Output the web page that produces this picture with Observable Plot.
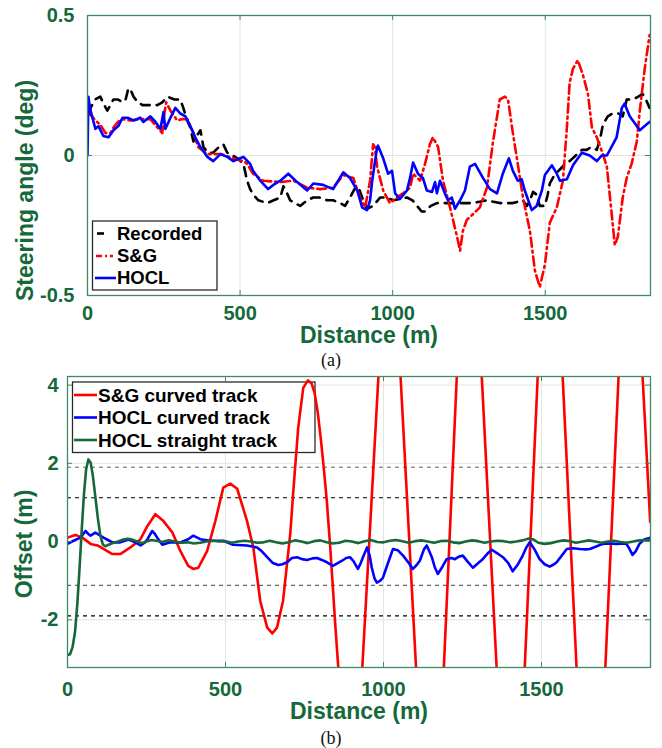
<!DOCTYPE html>
<html>
<head>
<meta charset="utf-8">
<script src="https://cdn.jsdelivr.net/npm/d3@7"></script>
<script src="https://cdn.jsdelivr.net/npm/@observablehq/plot@0.6"></script>
<style>
  html, body { margin: 0; padding: 0; background: #fff; }
  #wrap { width: 662px; }
  .cap { width: 662px; height: 20px; line-height: 20px; text-align: center;
         font-family: "Liberation Serif", "Times New Roman", serif; font-size: 18px; color: #111; }
  svg { display: block; }
</style>
</head>
<body>
<div id="wrap">
  <div id="chartA"></div>
  <div class="cap">(a)</div>
  <div id="chartB"></div>
  <div class="cap">(b)</div>
</div>
<script>
// ---------------- DATA ----------------
const xTicks = [0, 500, 1000, 1500];
const yTicksA = [-0.5, 0, 0.5];
const yTicksB = [-2, 0, 2, 4];
const xTitle = "Distance (m)";
const yTitleA = "Steering angle (deg)";
const yTitleB = "Offset (m)";
const seriesNamesA = ["Recorded", "S&G", "HOCL"];
const seriesNamesB = ["S&G curved track", "HOCL curved track", "HOCL straight track"];

// (a) steering angle [distance m, angle deg]
const recorded = [[5,0.15],[10,0.17],[25,0.2],[42,0.21],[55,0.18],[65,0.16],[75,0.18],[85,0.2],[100,0.2],[115,0.19],[125,0.2],[134,0.24],[143,0.23],[151,0.21],[165,0.19],[180,0.18],[205,0.18],[229,0.18],[245,0.19],[262,0.21],[285,0.2],[304,0.2],[314,0.17],[325,0.13],[337,0.1],[347,0.05],[358,0.07],[370,0.09],[380,0.03],[395,0.01],[412,0.01],[430,0.03],[445,0.04],[458,0.01],[475,0.0],[491,-0.01],[511,-0.03],[523,-0.09],[533,-0.12],[543,-0.14],[560,-0.16],[589,-0.17],[610,-0.16],[632,-0.15],[642,-0.11],[652,-0.13],[664,-0.16],[680,-0.17],[697,-0.18],[720,-0.16],[740,-0.15],[760,-0.15],[785,-0.16],[805,-0.16],[828,-0.17],[844,-0.18],[860,-0.15],[875,-0.12],[887,-0.11],[900,-0.15],[916,-0.19],[936,-0.18],[959,-0.15],[980,-0.15],[1002,-0.16],[1025,-0.155],[1047,-0.15],[1065,-0.16],[1080,-0.18],[1095,-0.2],[1106,-0.2],[1125,-0.18],[1145,-0.17],[1165,-0.17],[1188,-0.17],[1205,-0.17],[1221,-0.17],[1240,-0.17],[1263,-0.17],[1285,-0.165],[1309,-0.16],[1330,-0.165],[1351,-0.17],[1370,-0.17],[1394,-0.17],[1410,-0.165],[1427,-0.16],[1440,-0.18],[1450,-0.16],[1460,-0.13],[1472,-0.14],[1482,-0.18],[1499,-0.18],[1508,-0.14],[1515,-0.1],[1530,-0.07],[1548,-0.05],[1565,-0.03],[1580,-0.02],[1600,0.0],[1620,0.02],[1636,0.02],[1650,0.03],[1669,0.02],[1680,0.06],[1689,0.11],[1705,0.14],[1721,0.15],[1740,0.15],[1754,0.14],[1767,0.2],[1787,0.2],[1805,0.21],[1819,0.22],[1830,0.2],[1842,0.17]];

const sgA = [[0,0.15],[3,0.15],[15,0.14],[26,0.125],[42,0.11],[59,0.08],[75,0.08],[85,0.1],[100,0.12],[115,0.13],[141,0.125],[173,0.13],[206,0.13],[229,0.1],[245,0.08],[252,0.15],[258,0.19],[272,0.16],[294,0.125],[311,0.13],[327,0.13],[347,0.08],[363,0.03],[393,0.005],[436,0.005],[478,-0.01],[511,-0.02],[523,-0.03],[543,-0.065],[576,-0.09],[632,-0.095],[675,-0.09],[720,-0.115],[762,-0.12],[805,-0.115],[838,-0.07],[855,-0.075],[871,-0.08],[893,-0.15],[910,-0.185],[926,-0.09],[936,0.04],[942,0.03],[949,-0.04],[969,-0.125],[991,-0.17],[1014,-0.15],[1034,-0.135],[1057,-0.115],[1067,-0.065],[1090,-0.09],[1106,-0.03],[1122,0.04],[1132,0.065],[1149,0.03],[1165,-0.09],[1188,-0.185],[1211,-0.29],[1221,-0.34],[1230,-0.27],[1243,-0.23],[1263,-0.21],[1286,-0.185],[1309,-0.115],[1329,0.05],[1351,0.2],[1368,0.21],[1378,0.2],[1394,0.08],[1410,-0.03],[1427,-0.15],[1450,-0.27],[1466,-0.41],[1482,-0.47],[1499,-0.39],[1515,-0.24],[1538,-0.185],[1558,-0.09],[1571,0.1],[1580,0.26],[1591,0.31],[1607,0.34],[1623,0.29],[1640,0.22],[1653,0.1],[1669,0.065],[1689,0.005],[1702,-0.04],[1718,-0.21],[1728,-0.32],[1738,-0.29],[1754,-0.15],[1767,-0.08],[1783,-0.03],[1800,0.05],[1810,0.16],[1826,0.31],[1842,0.43]];

const hoclA = [[0,0],[3,0.21],[8,0.17],[16,0.135],[26,0.095],[36,0.105],[52,0.07],[69,0.065],[85,0.09],[101,0.105],[115,0.135],[131,0.135],[151,0.125],[173,0.135],[183,0.12],[206,0.14],[223,0.12],[239,0.095],[249,0.155],[255,0.095],[272,0.135],[288,0.17],[304,0.15],[321,0.14],[337,0.105],[353,0.065],[370,0.03],[393,-0.005],[412,-0.02],[436,0.005],[458,-0.005],[478,-0.02],[500,-0.01],[511,-0.005],[533,-0.03],[543,-0.055],[566,-0.09],[592,-0.12],[609,-0.105],[632,-0.09],[658,-0.065],[687,-0.095],[720,-0.125],[740,-0.1],[772,-0.105],[805,-0.12],[838,-0.06],[860,-0.08],[884,-0.125],[900,-0.185],[916,-0.195],[926,-0.16],[933,-0.09],[949,0.03],[952,0.035],[969,-0.01],[985,-0.065],[998,-0.055],[1008,-0.135],[1024,-0.155],[1047,-0.125],[1057,-0.08],[1067,-0.025],[1083,-0.065],[1099,-0.08],[1112,-0.125],[1129,-0.13],[1139,-0.095],[1145,-0.135],[1155,-0.09],[1171,-0.135],[1181,-0.16],[1194,-0.15],[1204,-0.19],[1221,-0.16],[1237,-0.125],[1253,-0.04],[1270,-0.03],[1296,-0.08],[1319,-0.12],[1342,-0.135],[1361,-0.065],[1381,-0.01],[1394,-0.055],[1410,-0.09],[1423,-0.085],[1433,-0.125],[1456,-0.195],[1472,-0.18],[1489,-0.125],[1499,-0.07],[1522,-0.035],[1538,-0.065],[1548,-0.09],[1571,-0.085],[1591,-0.035],[1620,0.01],[1646,0.0],[1669,-0.02],[1685,0.0],[1702,0.0],[1734,0.065],[1751,0.17],[1760,0.185],[1777,0.14],[1787,0.125],[1810,0.09],[1826,0.105],[1842,0.12]];

// (b) offset [distance m, offset m]
const sgB = [[0,0.1],[25,0.17],[47,0.1],[73,-0.06],[95,-0.1],[114,-0.19],[142,-0.32],[167,-0.32],[199,-0.15],[231,0.06],[253,0.4],[278,0.7],[303,0.53],[332,0.23],[357,-0.24],[382,-0.62],[398,-0.7],[414,-0.67],[442,-0.24],[468,0.53],[493,1.38],[515,1.48],[537,1.35],[568,0.53],[588,-0.15],[610,-1.52],[632,-2.2],[648,-2.35],[663,-2.2],[682,-1.52],[705,0.2],[714,1.22],[730,2.9],[746,3.93],[761,4.12],[772,4.05],[782,3.8],[792,3.3],[802,2.6],[812,1.8],[821,1.0],[831,-0.1],[840,-1.2],[848,-2.2],[857,-3.22],[868,-5],[920.8,-5],[933,-3.22],[984,4.22],[996.2,6],[1042.3,6],[1054,4.22],[1103,-3.22],[1114.7,-5],[1181.2,-5],[1191,-3.22],[1232,4.22],[1241.8,6],[1299.8,6],[1311,4.22],[1358,-3.22],[1369.2,-5],[1437.2,-5],[1447,-3.22],[1488,4.22],[1497.8,6],[1556.5,6],[1567,4.22],[1611,-3.22],[1621.5,-5],[1691.9,-5],[1702,-3.22],[1744,4.22],[1754.1,6],[1809.4,6],[1820,4.22],[1844,0.5]];

const hoclCurvedB = [[0,-0.06],[19,0.02],[41,0.1],[57,0.27],[65,0.2],[73,0.15],[88,0.23],[100,0.17],[114,0.1],[128,0.04],[142,-0.02],[167,-0.02],[193,0.05],[215,-0.02],[231,-0.1],[245,-0.02],[253,0.06],[268,0.27],[276,0.2],[284,0.1],[300,-0.08],[325,-0.02],[357,-0.02],[382,0.06],[398,0.15],[420,0.06],[452,0.02],[493,0.02],[524,-0.08],[568,-0.1],[600,-0.15],[615,-0.25],[632,-0.4],[650,-0.55],[667,-0.6],[680,-0.58],[695,-0.53],[710,-0.42],[727,-0.4],[742,-0.45],[758,-0.47],[775,-0.43],[790,-0.42],[805,-0.47],[821,-0.53],[840,-0.62],[855,-0.55],[869,-0.49],[882,-0.42],[894,-0.4],[905,-0.5],[919,-0.7],[928,-0.55],[935,-0.4],[948,-0.15],[956,-0.35],[963,-0.67],[972,-0.95],[979,-1.05],[990,-1.0],[998,-0.93],[1012,-0.6],[1030,-0.19],[1045,-0.22],[1062,-0.36],[1080,-0.55],[1093,-0.7],[1105,-0.6],[1115,-0.49],[1128,-0.2],[1137,-0.1],[1145,-0.25],[1153,-0.4],[1162,-0.65],[1172,-0.83],[1186,-0.65],[1200,-0.45],[1215,-0.42],[1226,-0.45],[1240,-0.38],[1251,-0.36],[1265,-0.5],[1283,-0.67],[1300,-0.55],[1314,-0.45],[1330,-0.3],[1343,-0.21],[1360,-0.3],[1378,-0.4],[1395,-0.55],[1409,-0.76],[1424,-0.6],[1438,-0.4],[1452,-0.15],[1463,-0.02],[1478,-0.2],[1494,-0.45],[1510,-0.58],[1526,-0.64],[1540,-0.58],[1548,-0.53],[1565,-0.35],[1580,-0.19],[1600,-0.17],[1621,-0.19],[1640,-0.2],[1653,-0.19],[1675,-0.12],[1694,-0.06],[1715,-0.05],[1738,-0.06],[1755,-0.05],[1769,-0.06],[1778,-0.18],[1788,-0.34],[1798,-0.25],[1810,-0.06],[1825,0.05],[1845,0.1]];

const hoclStraightB = [[0,-2.9],[8,-2.88],[16,-2.7],[24,-2.3],[31,-1.6],[38,-0.7],[45,0.3],[52,1.2],[59,1.85],[66,2.1],[73,2.02],[80,1.7],[88,1.15],[96,0.6],[104,0.15],[112,-0.08],[120,-0.12],[130,-0.08],[145,-0.03],[160,0.0],[175,0.05],[190,0.07],[205,0.05],[220,0.0],[235,-0.04],[250,0.0],[265,0.04],[280,0.02],[300,-0.01],[320,0.03],[340,0.0],[360,-0.03],[380,-0.02],[400,-0.05],[420,-0.03],[440,0.0],[460,0.02],[480,0.0],[500,0.01],[520,-0.03],[540,0.0],[560,0.02],[580,0.0],[600,-0.03],[620,-0.02],[640,0.02],[660,-0.02],[680,-0.05],[700,-0.02],[720,0.03],[740,0.0],[760,-0.04],[780,0.01],[800,0.03],[820,-0.02],[840,-0.05],[860,-0.03],[880,0.02],[900,0.0],[920,-0.04],[940,0.01],[960,0.04],[980,-0.01],[1000,-0.02],[1020,0.02],[1040,0.04],[1060,0.01],[1080,-0.03],[1100,0.01],[1120,0.03],[1140,0.0],[1160,-0.03],[1180,0.01],[1200,0.02],[1220,-0.02],[1240,-0.04],[1260,0.0],[1280,0.03],[1300,0.01],[1320,-0.03],[1340,0.0],[1360,0.02],[1380,0.01],[1400,-0.02],[1420,0.0],[1440,0.03],[1460,0.08],[1475,0.05],[1490,-0.03],[1510,-0.06],[1530,-0.04],[1550,0.0],[1570,0.03],[1590,0.01],[1610,-0.03],[1630,0.0],[1650,0.03],[1670,0.0],[1690,-0.03],[1710,0.0],[1730,0.02],[1750,-0.01],[1770,-0.03],[1790,0.0],[1810,0.03],[1830,0.04],[1845,0.05]];

// dashed reference levels in (b)
const refGray = [1.9, -1.12];
const refBlack = [1.12, -1.9];

// ---------------- STYLE ----------------
const FONT = '"Liberation Sans", Arial, Helvetica, sans-serif';
const textGreen = "#14683a";
const frameGreen = "#3f8a62";
const gridColor = "#dde8e3";
const darkGreen = "#16683a";

function buildChart({width, height, margin, yDomain, yTicks, yPad, xPad, xTitleDy, yTitleDx, yTitleDy, yTitle, lines, extra = []}) {
  const fw = width - margin.left - margin.right;
  const fh = height - margin.top - margin.bottom;
  return Plot.plot({
    width, height,
    marginLeft: margin.left, marginRight: margin.right, marginTop: margin.top, marginBottom: margin.bottom,
    style: {fontFamily: FONT, fontWeight: "bold", fontSize: "20px", color: textGreen, background: "white"},
    x: {domain: [0, 1845], axis: null},
    y: {domain: yDomain, axis: null},
    marks: [
      Plot.gridX(xTicks, {stroke: gridColor, strokeOpacity: 1}),
      Plot.gridY(yTicks, {stroke: gridColor, strokeOpacity: 1}),
      ...extra,
      ...lines.map(l => Plot.line(l.data, {x: d => d[0], y: d => d[1], stroke: l.color, strokeWidth: 2.6,
        strokeDasharray: l.dash, curve: "linear", clip: true, strokeLinejoin: "round"})),
      Plot.tickX(xTicks, {x: d => d, stroke: frameGreen, insetTop: fh - 5}),
      Plot.tickX(xTicks, {x: d => d, stroke: frameGreen, insetBottom: fh - 5}),
      Plot.tickY(yTicks, {y: d => d, stroke: frameGreen, insetRight: fw - 5}),
      Plot.tickY(yTicks, {y: d => d, stroke: frameGreen, insetLeft: fw - 5}),
      Plot.frame({stroke: frameGreen, strokeWidth: 1.3}),
      Plot.axisX(xTicks, {anchor: "bottom", tickSize: 0, tickPadding: xPad, label: null, tickFormat: d => String(d), fontSize: 20}),
      Plot.axisY(yTicks, {anchor: "left", tickSize: 0, tickPadding: yPad, label: null, tickFormat: d => String(d), fontSize: 20}),
      Plot.text([xTitle], {text: d => d, frameAnchor: "bottom", dy: xTitleDy, lineAnchor: "middle", textAnchor: "middle", fontSize: 23}),
      Plot.text([yTitle], {text: d => d, frameAnchor: "left", dx: yTitleDx, dy: yTitleDy, rotate: -90, lineAnchor: "middle", textAnchor: "middle", fontSize: 23})
    ]
  });
}

function addLegend(svg, {x, y, w, h, rows, tx, fontSize, items}) {
  const NS = "http://www.w3.org/2000/svg";
  const before = svg.querySelector('g[aria-label="line"]');
  const rect = document.createElementNS(NS, "rect");
  rect.setAttribute("x", x); rect.setAttribute("y", y);
  rect.setAttribute("width", w); rect.setAttribute("height", h);
  rect.setAttribute("fill", "white"); rect.setAttribute("stroke", "#2a2a2a"); rect.setAttribute("stroke-width", 1.3);
  svg.insertBefore(rect, before);
  const g = d3.select(svg).append("g").attr("text-anchor", "start");
  items.forEach((it, i) => {
    g.append("line").attr("x1", it.sx1).attr("x2", it.sx2).attr("y1", rows[i]).attr("y2", rows[i])
      .attr("stroke", it.color).attr("stroke-width", 2.6).attr("stroke-dasharray", it.dash || null);
    g.append("text").attr("x", tx).attr("y", rows[i]).attr("dy", "0.35em").attr("text-anchor", "start")
      .attr("font-family", FONT).attr("font-weight", "bold").attr("font-size", fontSize)
      .attr("fill", "#000").text(it.name);
  });
}

// ---------------- CHART A ----------------
const linesA = [
  {data: recorded, color: "#000", dash: "9,7", name: seriesNamesA[0]},
  {data: sgA, color: "#ff0000", dash: "9,4,2,4", name: seriesNamesA[1]},
  {data: hoclA, color: "#0000ff", dash: null, name: seriesNamesA[2]}
];
const svgA = buildChart({
  width: 662, height: 350, margin: {left: 87, right: 12, top: 15, bottom: 55},
  yDomain: [-0.5, 0.5], yTicks: yTicksA, yPad: 13, xPad: 10, xTitleDy: 40,
  yTitleDx: -62, yTitleDy: 35, yTitle: yTitleA, lines: linesA
});
document.getElementById("chartA").appendChild(svgA);
addLegend(svgA, {x: 92.5, y: 221, w: 124.5, h: 69, rows: [233.5, 256, 278], tx: 117, fontSize: 18.5,
  items: [
    {name: seriesNamesA[0], color: "#000", dash: null, sx1: 97, sx2: 104},
    {name: seriesNamesA[1], color: "#ff0000", dash: "6,3,2,3", sx1: 96, sx2: 113},
    {name: seriesNamesA[2], color: "#0000ff", dash: null, sx1: 95, sx2: 116}
  ]});

// ---------------- CHART B ----------------
const linesB = [
  {data: sgB, color: "#ff0000", dash: null, name: seriesNamesB[0]},
  {data: hoclCurvedB, color: "#0000ff", dash: null, name: seriesNamesB[1]},
  {data: hoclStraightB, color: darkGreen, dash: null, name: seriesNamesB[2]}
];
const extraB = [
  Plot.ruleY(refGray, {y: d => d, stroke: "#666", strokeWidth: 1.2, strokeDasharray: "4,4"}),
  Plot.ruleY(refBlack, {y: d => d, stroke: "#000", strokeWidth: 1.1, strokeDasharray: "4,4"})
];
const svgB = buildChart({
  width: 662, height: 358, margin: {left: 67, right: 12, top: 6, bottom: 61},
  yDomain: [-3.22, 4.22], yTicks: yTicksB, yPad: 9, xPad: 14, xTitleDy: 44,
  yTitleDx: -43, yTitleDy: 22, yTitle: yTitleB, lines: linesB, extra: extraB
});
document.getElementById("chartB").appendChild(svgB);
addLegend(svgB, {x: 72.5, y: 12, w: 242.5, h: 70.5, rows: [25, 47.5, 70], tx: 98, fontSize: 19,
  items: linesB.map(l => ({name: l.name, color: l.color, dash: null, sx1: 74, sx2: 97}))});
</script>
</body>
</html>
